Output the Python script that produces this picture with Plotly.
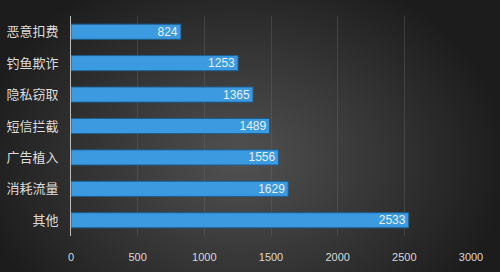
import base64, struct, zlib
import numpy as np
import plotly.graph_objects as go

categories = ["其他", "消耗流量", "广告植入", "短信拦截", "隐私窃取", "钓鱼欺诈", "恶意扣费"]
values = [2533, 1629, 1556, 1489, 1365, 1253, 824]
tick_vals = [0, 500, 1000, 1500, 2000, 2500, 3000]

W, H = 500, 272
ML, MR, MT, MB = 71, 29, 16, 36

def png_data_uri(arr):
    h, w, _ = arr.shape
    raw = b"".join(b"\x00" + arr[y].tobytes() for y in range(h))
    def chunk(tag, data):
        c = struct.pack(">I", len(data)) + tag + data
        return c + struct.pack(">I", zlib.crc32(tag + data) & 0xFFFFFFFF)
    png = b"\x89PNG\r\n\x1a\n" + chunk(b"IHDR", struct.pack(">IIBBBBB", w, h, 8, 2, 0, 0, 0))
    png += chunk(b"IDAT", zlib.compress(raw, 9)) + chunk(b"IEND", b"")
    return "data:image/png;base64," + base64.b64encode(png).decode()

yy, xx = np.mgrid[0:H, 0:W]
d = np.sqrt(((xx - 240) / 300.0) ** 2 + ((yy - 160) / 230.0) ** 2)
g = np.clip(82 - 60 * d, 28, 82)
bg = np.stack([g, g, g], axis=-1).astype(np.uint8)

fig = go.Figure()
fig.add_trace(go.Bar(
    y=categories, x=values, orientation="h",
    marker=dict(color="#3c9be0", line=dict(color="#1d5f93", width=1)),
    width=0.48,
    text=[str(v) for v in values], textposition="inside", insidetextanchor="end",
    constraintext="none",
    textfont=dict(color="#e6eef6", size=12, family="Liberation Sans"),
    cliponaxis=False,
))
pw, ph = W - ML - MR, H - MT - MB
fig.add_layout_image(dict(
    source=png_data_uri(bg), xref="paper", yref="paper",
    x=-ML / pw, y=1 + MT / ph, sizex=W / pw, sizey=H / ph,
    xanchor="left", yanchor="top", sizing="stretch", layer="below",
))
fig.update_layout(
    width=W, height=H, margin=dict(l=ML, r=MR, t=MT, b=MB),
    paper_bgcolor="#333333", plot_bgcolor="rgba(0,0,0,0)",
    showlegend=False, bargap=0.5, uniformtext=dict(mode=False),
    font=dict(family="Noto Sans CJK SC", color="#d8d8d8"),
)
fig.update_xaxes(range=[0, 3000], tickvals=tick_vals, showgrid=True,
                 gridcolor="rgba(110,110,110,0.35)", gridwidth=1, zeroline=False,
                 tickfont=dict(size=11, color="#d8d8d8", family="Liberation Sans"),
                 ticks="", showline=False, automargin=False, ticklabelstandoff=13)
fig.update_yaxes(showline=True, linecolor="#bbbbbb", linewidth=1, ticks="",
                 tickfont=dict(size=13, color="#dcdcdc"), showgrid=False,
                 ticklabelstandoff=9, automargin=False)
fig.write_html("out.html")
